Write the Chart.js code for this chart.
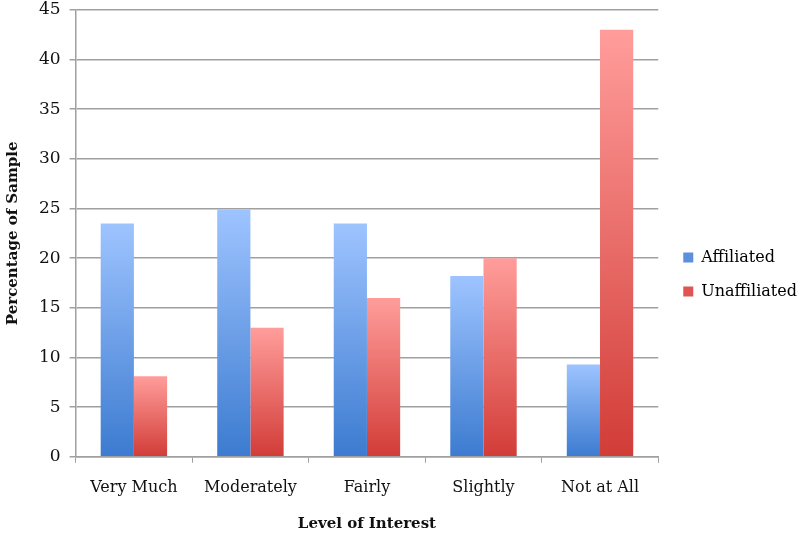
<!DOCTYPE html>
<html>
<head>
<meta charset="utf-8">
<script src="https://cdn.jsdelivr.net/npm/chart.js@4/dist/chart.umd.min.js"></script>
<style>
  html, body { margin: 0; padding: 0; background: #fff; }
  #wrap { width: 800px; height: 533px; }
</style>
</head>
<body>
<div id="wrap"><canvas id="chart" width="800" height="533"></canvas></div>
<script>
const categories = ["Very Much", "Moderately", "Fairly", "Slightly", "Not at All"];
const affiliated = [23.5, 24.9, 23.5, 18.2, 9.3];
const unaffiliated = [8.1, 13.0, 16.0, 20.0, 43.0];
const yTicks = [0, 5, 10, 15, 20, 25, 30, 35, 40, 45];

const FONT = "'DejaVu Serif', 'Liberation Serif', serif";
const GRID = "#a0a0a0";

// vertical gradient per bar, light at top, dark at the base
function barGradient(top, bottom) {
  return ctx => {
    const chart = ctx.chart;
    const y = chart.scales?.y;
    if (!y || ctx.dataIndex === undefined) return bottom;
    const value = ctx.dataset.data[ctx.dataIndex];
    const y0 = y.getPixelForValue(value);
    const y1 = y.getPixelForValue(0);
    const g = chart.ctx.createLinearGradient(0, y0, 0, y1);
    g.addColorStop(0, top);
    g.addColorStop(1, bottom);
    return g;
  };
}

// the legend sits a bit lower and further right than chart.js puts it
const legendNudge = {
  id: "legendNudge",
  afterLayout(chart) {
    const legend = chart.legend;
    if (!legend) return;
    legend.top += 8;
    legend.bottom += 8;
    legend.left += 7;
    legend.right += 7;
  },
};

new Chart(document.getElementById("chart"), {
  type: "bar",
  data: {
    labels: categories,
    datasets: [
      {
        label: "Affiliated",
        data: affiliated,
        backgroundColor: barGradient("#9ec4ff", "#3c7bd0"),
        barPercentage: 1,
        categoryPercentage: 0.57,
      },
      {
        label: "Unaffiliated",
        data: unaffiliated,
        backgroundColor: barGradient("#ff9d9b", "#d23c37"),
        barPercentage: 1,
        categoryPercentage: 0.57,
      },
    ],
  },
  plugins: [legendNudge],
  options: {
    responsive: false,
    animation: false,
    layout: { padding: { top: 0, right: 0, left: 0, bottom: 0 } },
    plugins: {
      legend: {
        position: "right",
        labels: {
          color: "#111",
          font: { family: FONT, size: 16 },
          boxWidth: 10,
          boxHeight: 10,
          padding: 18,
          generateLabels: chart => chart.data.datasets.map((ds, i) => ({
            text: ds.label,
            fillStyle: i === 0 ? "#5a90dc" : "#e05551",
            strokeStyle: "transparent",
            lineWidth: 0,
            datasetIndex: i,
          })),
        },
      },
      tooltip: { enabled: false },
    },
    scales: {
      x: {
        grid: {
          display: true,
          drawOnChartArea: false,
          color: GRID,
          tickLength: 6,
          offset: true,
        },
        border: { color: GRID, width: 1.5 },
        ticks: { color: "#111", font: { family: FONT, size: 16 }, padding: 15 },
        title: {
          display: true,
          text: "Level of Interest",
          color: "#111",
          font: { family: FONT, size: 15, weight: "bold" },
          padding: { top: 3, bottom: 0 },
        },
      },
      y: {
        min: 0,
        max: 45,
        afterBuildTicks: axis => { axis.ticks = yTicks.map(v => ({ value: v })); },
        grid: { color: GRID, lineWidth: 1.5, tickLength: 6 },
        border: { color: GRID, width: 1.5 },
        ticks: { color: "#111", font: { family: FONT, size: 17, lineHeight: 0.1 }, padding: 9 },
        title: {
          display: true,
          text: "Percentage of Sample",
          color: "#111",
          font: { family: FONT, size: 15, weight: "bold" },
          padding: { bottom: 8 },
        },
      },
    },
  },
});
</script>
</body>
</html>
